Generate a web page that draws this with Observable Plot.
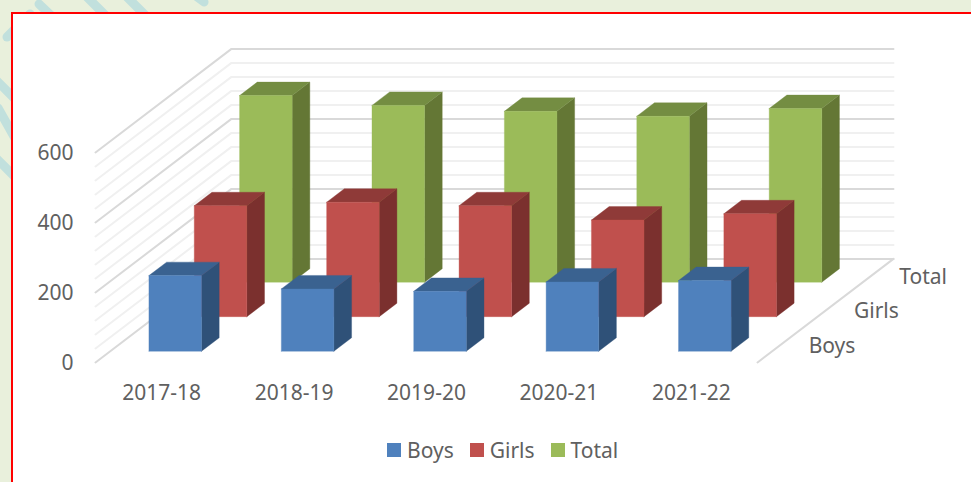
<!DOCTYPE html>
<html><head><meta charset="utf-8">
<script src="https://cdn.jsdelivr.net/npm/d3@7"></script>
<script src="https://cdn.jsdelivr.net/npm/@observablehq/plot@0.6"></script>
<style>
html,body{margin:0;padding:0;width:971px;height:482px;overflow:hidden;background:#E9F0DC;}
#deco{position:absolute;left:0;top:0;width:971px;height:482px;}
#frame{position:absolute;left:11px;top:12px;width:1000px;height:600px;background:#fff;border:2px solid #FF0000;box-sizing:border-box;}
#chart{position:absolute;left:0;top:0;}
#legend{position:absolute;left:387px;top:433px;}
.lg-swatch>svg{margin-right:6px !important;}
.lg-swatch{margin-right:16px !important;}
</style></head><body>
<svg id="deco" viewBox="0 0 971 482"><g stroke="#C1E0DD" stroke-width="9" stroke-linecap="round" fill="none">
<path d="M39 4L60 24"/><path d="M84 -6L114 24"/><path d="M124 -6L154 24"/><path d="M196 -4L204 2"/>
<path d="M7 37L30 14"/><path d="M-4 80L14 98"/><path d="M-2 108L16 140"/><path d="M-6 156L16 178"/>
</g></svg>
<div id="frame"></div>
<div id="chart"></div>
<div id="legend"></div>
<script>
const categories = ["2017-18","2018-19","2019-20","2020-21","2021-22"];
const seriesNames = ["Boys","Girls","Total"];
const boys  = [216,178,171,198,202];
const girls = [317,327,317,276,294];
const total = [533,505,488,474,496];
const yTicks = [0,40,80,120,160,200,240,280,320,360,400,440,480,520,560,600];
const yLabels = [0,200,400,600];
const frontColors = ["#4F81BD","#C0504D","#9BBB59"];
const sideColors  = ["#2F5178","#7B302E","#647735"];
const topColors   = ["#3A6290","#8F3A38","#748D42"];

// Oblique projection of the 3-D chart box: (category position, value, depth 0..1) → plot x,y.
const depthX = 1.027, depthY = 296;
const px = (c, d) => c + d * depthX;
const py = (v, d) => v + d * depthY;
const barWidth = 0.397, barDepth = 0.13, rowPad = 0.109;

const walls = [];
for (const t of yTicks) {
  const major = t % 200 === 0;
  const id = "g" + t;
  walls.push({id, major, x: px(0,0), y: py(t,0)}, {id, major, x: px(0,1), y: py(t,1)}, {id, major, x: px(categories.length,1), y: py(t,1)});
}
const floorEdge = [{x: px(categories.length,1), y: py(0,1)}, {x: px(categories.length,0), y: py(0,0)}];

const series = [boys, girls, total];
const faces = [];
function face(id, fill, stroke, pts) {
  pts.concat([pts[0]]).forEach(([c,v,d]) => faces.push({id, fill, stroke, x: px(c,d), y: py(v,d)}));
}
for (let r = 2; r >= 0; r--) {
  const d0 = r / 3 + rowPad, d1 = d0 + barDepth;
  series[r].forEach((v, i) => {
    const c0 = i + 0.5 - barWidth / 2, c1 = c0 + barWidth;
    face(`s${r}${i}`, sideColors[r], sideColors[r], [[c1,0,d0],[c1,0,d1],[c1,v,d1],[c1,v,d0]]);
    face(`t${r}${i}`, topColors[r], topColors[r], [[c0,v,d0],[c1,v,d0],[c1,v,d1],[c0,v,d1]]);
    face(`f${r}${i}`, frontColors[r], frontColors[r], [[c0,0,d0],[c1,0,d0],[c1,v,d0],[c0,v,d0]]);
  });
}
const font = "'Noto Sans', sans-serif";
const textColor = "#606060";
const fontSize = 21;
const catLabels = categories.map((label, i) => ({label, c: i + 0.5}));
const rowLabels = seriesNames.map((label, r) => ({label, d: (r + 0.5) / 3}));

const plot = Plot.plot({
  width: 971, height: 482, margin: 0,
  style: {background: "transparent", fontFamily: font},
  x: {domain: [-95/132.4, (971-95)/132.4], axis: null},
  y: {domain: [-120/0.35, 362/0.35], axis: null},
  marks: [
    Plot.line(walls.filter(d => !d.major), {x:"x", y:"y", z:"id", stroke:"#F0F0F0", strokeWidth:2}),
    Plot.line(walls.filter(d => d.major),  {x:"x", y:"y", z:"id", stroke:"#D9D9D9", strokeWidth:2}),
    Plot.line(floorEdge, {x:"x", y:"y", stroke:"#D9D9D9", strokeWidth:2}),
    Plot.line(faces, {x:"x", y:"y", z:"id", fill: d => d.fill, stroke: d => d.stroke, strokeWidth:0.6, strokeOpacity:0.6, dx:-1.3, dy:0}),
    Plot.text(yLabels, {x: () => 0, y: d => d, text: d => String(d), textAnchor:"end", dx:-22, dy:1, fontSize, fill:textColor}),
    Plot.text(catLabels, {x:"c", y: () => 0, text:"label", dy:31, fontSize, fill:textColor}),
    Plot.text(rowLabels, {x: d => px(categories.length, d.d), y: d => py(0, d.d), text:"label", textAnchor:"start", dx:28.5, dy:1, fontSize, fill:textColor})
  ]
});
document.getElementById("chart").appendChild(plot);
const lg = Plot.legend({
  color: {type:"ordinal", domain: seriesNames, range: frontColors},
  swatchSize: 14, className: "lg",
  style: {fontFamily: font, fontSize: "21px", color: textColor}
});
document.getElementById("legend").appendChild(lg);
</script></body></html>
